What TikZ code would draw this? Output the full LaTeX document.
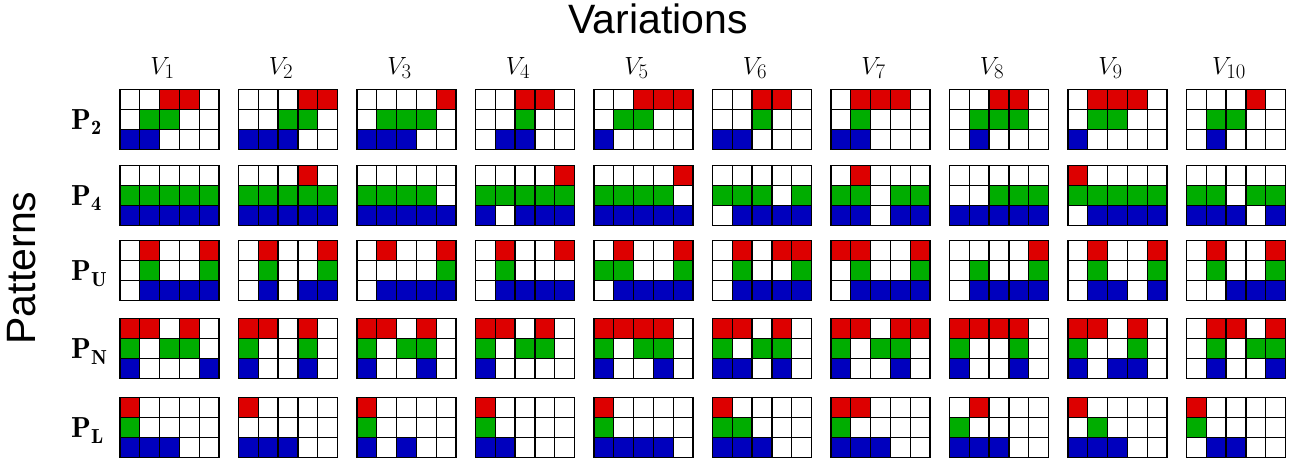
\documentclass[tikz,border=0pt]{standalone}
\usepackage{fontspec}
\newfontfamily\arialfont{Liberation Sans}
\definecolor{cR}{RGB}{221,0,0}
\definecolor{cG}{RGB}{0,173,0}
\definecolor{cB}{RGB}{0,0,190}
\newcount\pgc
\newcount\pgr
\def\pgx{0}
\def\pgy{0}
\def\cw{19.8}
\def\chh{20}
\def\pgfc{white}
\def\pgcell#1{%
  \if R#1\def\pgfc{cR}\fi
  \if G#1\def\pgfc{cG}\fi
  \if B#1\def\pgfc{cB}\fi
  \if W#1\def\pgfc{white}\fi
  \filldraw[fill=\pgfc,cellline] (\pgx+\the\pgc*\cw,\pgy+\the\pgr*\chh) rectangle ++(\cw,\chh);}
\def\pgloop#1{%
  \ifx\relax#1\else
    \pgcell#1%
    \advance\pgc by 1
    \ifnum\pgc=5 \pgc=0 \advance\pgr by 1 \fi
    \expandafter\pgloop
  \fi}
\def\pgridat#1#2#3{\def\pgx{#1}\def\pgy{#2}\pgc=0 \pgr=0 \expandafter\pgloop#3\relax}
\tikzset{
  cellline/.style={draw=black,line width=1.3pt},
  vlabel/.style={anchor=base,inner sep=0pt,font=\fontsize{30}{36}\selectfont},
  plabel/.style={anchor=base west,inner sep=0pt,font=\fontsize{29}{35}\selectfont},
  bigtitle/.style={inner sep=0pt,font=\arialfont\fontsize{41}{48}\selectfont}
}
\begin{document}
\begin{tikzpicture}[x=1pt,y=-1pt]
\useasboundingbox (0,0) rectangle (1293,461);
\node[bigtitle,anchor=base] (title) at (658,33) {Variations};
\node[bigtitle,rotate=90] (ylab) at (22,268) {Patterns};
\foreach \i in {1,...,10} {
  \node[vlabel] (v\i) at ({120+(\i-1)*118.5+49.5-7},74) {$V_{\i}$};
}
\node[plabel] (p2) at (71,129.3) {$\mathbf{P}_{\mathbf{2}}$};
\node[plabel] (p4) at (71,205.3) {$\mathbf{P}_{\mathbf{4}}$};
\node[plabel] (pu) at (71,280.7) {$\mathbf{P}_{\mathbf{U}}$};
\node[plabel] (pn) at (71,358.7) {$\mathbf{P}_{\mathbf{N}}$};
\node[plabel] (pl) at (71,437.7) {$\mathbf{P}_{\mathbf{L}}$};
% row P2
\foreach \s [count=\i from 0] in {WWRRWWGGWWBBWWW,WWWRRWWGGWBBBWW,WWWWRWGGGWBBBWW,WWRRWWWGWWWBBWW,WWRRRWGGWWBWWWW,WWRRWWWGWWBBWWW,WRRRWWGWWWBBWWW,WWRRWWGGGWWBWWW,WRRRWWGGWWBWWWW,WWWRWWGGWWWBWWW}
  {\pgridat{120+\i*118.5}{89.3}{\s}}
% row P4
\foreach \s [count=\i from 0] in {WWWWWGGGGGBBBBB,WWWRWGGGGGBBBBB,WWWWWGGGGWBBBBB,WWWWRGGGGGBWBBB,WWWWRGGGGWBBBBB,WWWWWGGGWGWBBBB,WRWWWGGWGGBBWBB,WWWWWWWGGGBBBBB,RWWWWGGGGGWBBBB,WWWWWGGWGGBBBWB}
  {\pgridat{120+\i*118.5}{165.3}{\s}}
% row PU
\foreach \s [count=\i from 0] in {WRWWRWGWWGWBBBB,WRWWRWGWWGWBWBB,WRWWRWWWWGWBBBB,WRWWRWGWWWWBBBB,WRWWRGGWWGWBBBB,WRWRRWGWWGWBBBB,RRWWRWGWWGWBBBB,WWWWRWGWWGWBBBB,WRWWRWGWWGWBBWB,WRWWRWGWWGWWBBB}
  {\pgridat{120+\i*118.5}{240.7}{\s}}
% row PN
\foreach \s [count=\i from 0] in {RRWRWGWGGWBWWWB,RRWRWGWWGWBWWBW,RRWRWGWGGWBWWBW,RRWRWGWGGWBWWWW,RRRRWGWGGWBWWBW,RRWRWGWGGWBBWBW,RRWRRGWGGWBWWBW,RRRRWGWWGWBWWBW,RRWRWGWWGWBWBBW,WRRWRWGWGGWBWWB}
  {\pgridat{120+\i*118.5}{318.7}{\s}}
% row PL
\foreach \s [count=\i from 0] in {RWWWWGWWWWBBBWW,RWWWWWWWWWBBBWW,RWWWWGWWWWBWBWW,RWWWWGWWWWBBWWW,RWWWWGWWWWBBBBW,RWWWWGGWWWBBBWW,RRWWWGWWWWBBBWW,WRWWWGWWWWBBBWW,RWWWWWGWWWBBBWW,RWWWWGWWWWWBBWW}
  {\pgridat{120+\i*118.5}{397.7}{\s}}
\end{tikzpicture}
\end{document}
